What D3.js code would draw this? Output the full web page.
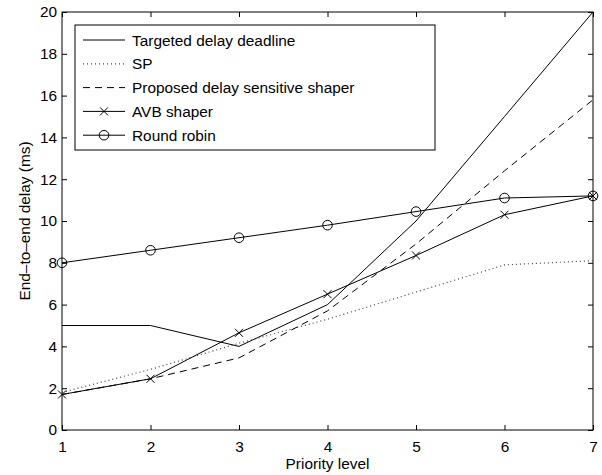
<!DOCTYPE html>
<html>
<head>
<meta charset="utf-8">
<script src="https://cdn.jsdelivr.net/npm/d3@7"></script>
<style>
  body { margin: 0; background: #fff; }
  svg text { font-family: "Liberation Sans", Arial, sans-serif; font-size: 15.4px; fill: #000; }
</style>
</head>
<body>
<svg id="chart" width="602" height="475"></svg>
<script>
// priority levels
var levels = [1, 2, 3, 4, 5, 6, 7];
var yTicks = [0, 2, 4, 6, 8, 10, 12, 14, 16, 18, 20];

var targeted = [5, 5, 4, 6, 10, 15, 20];
var sp = [1.8, 2.9, 4.15, 5.3, 6.6, 7.9, 8.1];
var proposed = [1.7, 2.45, 3.45, 5.7, 8.9, 12.4, 15.8];
var avb = [1.7, 2.45, 4.65, 6.5, 8.35, 10.3, 11.2];
var roundRobin = [8, 8.6, 9.2, 9.8, 10.45, 11.1, 11.2];

var seriesNames = ["Targeted delay deadline", "SP", "Proposed delay sensitive shaper", "AVB shaper", "Round robin"];

var series = [
  { name: seriesNames[0], values: targeted, dash: null, color: "#000", marker: null },
  { name: seriesNames[1], values: sp, dash: "1,3", color: "#444", marker: null },
  { name: seriesNames[2], values: proposed, dash: "7,5", color: "#000", marker: null },
  { name: seriesNames[3], values: avb, dash: null, color: "#000", marker: "x" },
  { name: seriesNames[4], values: roundRobin, dash: null, color: "#000", marker: "o" }
];

var margin = { left: 62, right: 9, top: 12, bottom: 45 };
var width = 602, height = 475;

var svg = d3.select("#chart");

var x = d3.scaleLinear().domain([1, 7]).range([margin.left, width - margin.right]);
var y = d3.scaleLinear().domain([0, 20]).range([height - margin.bottom, margin.top]);

// frame
svg.append("rect")
  .attr("x", x(1)).attr("y", y(20))
  .attr("width", x(7) - x(1)).attr("height", y(0) - y(20))
  .attr("fill", "none").attr("stroke", "#000").attr("stroke-width", 1);

// axes (ticks inward)
var axBottom = svg.append("g").attr("transform", "translate(0," + y(0) + ")")
  .call(d3.axisBottom(x).tickValues(levels).tickSize(-5).tickPadding(11).tickFormat(d3.format("d")));
var axTop = svg.append("g").attr("transform", "translate(0," + y(20) + ")")
  .call(d3.axisTop(x).tickValues(levels).tickSize(-5).tickFormat(""));
var axLeft = svg.append("g").attr("transform", "translate(" + x(1) + ",0)")
  .call(d3.axisLeft(y).tickValues(yTicks).tickSize(-5).tickPadding(5).tickFormat(d3.format("d")));
var axRight = svg.append("g").attr("transform", "translate(" + x(7) + ",0)")
  .call(d3.axisRight(y).tickValues(yTicks).tickSize(-5).tickFormat(""));

[axBottom, axTop, axLeft, axRight].forEach(function(g) {
  g.attr("font-size", null).attr("font-family", null);
  g.select(".domain").remove();
  g.selectAll("line").attr("stroke", "#000");
});

// axis labels
svg.append("text")
  .attr("x", (x(1) + x(7)) / 2).attr("y", 469)
  .attr("text-anchor", "middle")
  .text("Priority level");

svg.append("text")
  .attr("transform", "translate(30," + ((y(0) + y(20)) / 2) + ") rotate(-90)")
  .attr("text-anchor", "middle")
  .text("End\u2013to\u2013end delay (ms)");

var line = d3.line()
  .x(function(d, i) { return x(levels[i]); })
  .y(function(d) { return y(d); });

function drawMarker(g, type, cx, cy) {
  if (type === "x") {
    var s = 4;
    g.append("path")
      .attr("d", "M" + (cx - s) + "," + (cy - s) + "L" + (cx + s) + "," + (cy + s) +
                 "M" + (cx - s) + "," + (cy + s) + "L" + (cx + s) + "," + (cy - s))
      .attr("stroke", "#000").attr("stroke-width", 1).attr("fill", "none");
  } else if (type === "o") {
    g.append("circle").attr("cx", cx).attr("cy", cy).attr("r", 4.8)
      .attr("stroke", "#000").attr("stroke-width", 1).attr("fill", "none");
  }
}

var plot = svg.append("g");
series.forEach(function(s) {
  plot.append("path")
    .datum(s.values)
    .attr("d", line)
    .attr("fill", "none")
    .attr("stroke", s.color)
    .attr("stroke-width", s.dash === "1,3" ? 1.2 : 1)
    .attr("stroke-dasharray", s.dash);
  if (s.marker) {
    s.values.forEach(function(v, i) {
      drawMarker(plot, s.marker, x(levels[i]), y(v));
    });
  }
});

// legend
var legend = svg.append("g");
legend.append("rect")
  .attr("x", 75).attr("y", 25).attr("width", 360).attr("height", 125)
  .attr("fill", "#fff").attr("stroke", "#000").attr("stroke-width", 1);

series.forEach(function(s, i) {
  var ly = 40 + i * 23.8;
  legend.append("line")
    .attr("x1", 83).attr("x2", 125).attr("y1", ly).attr("y2", ly)
    .attr("stroke", s.color)
    .attr("stroke-width", s.dash === "1,3" ? 1.2 : 1)
    .attr("stroke-dasharray", s.dash);
  if (s.marker) drawMarker(legend, s.marker, 104, ly);
  legend.append("text")
    .attr("x", 132).attr("y", ly + 5.5)
    .text(s.name);
});
</script>
</body>
</html>
